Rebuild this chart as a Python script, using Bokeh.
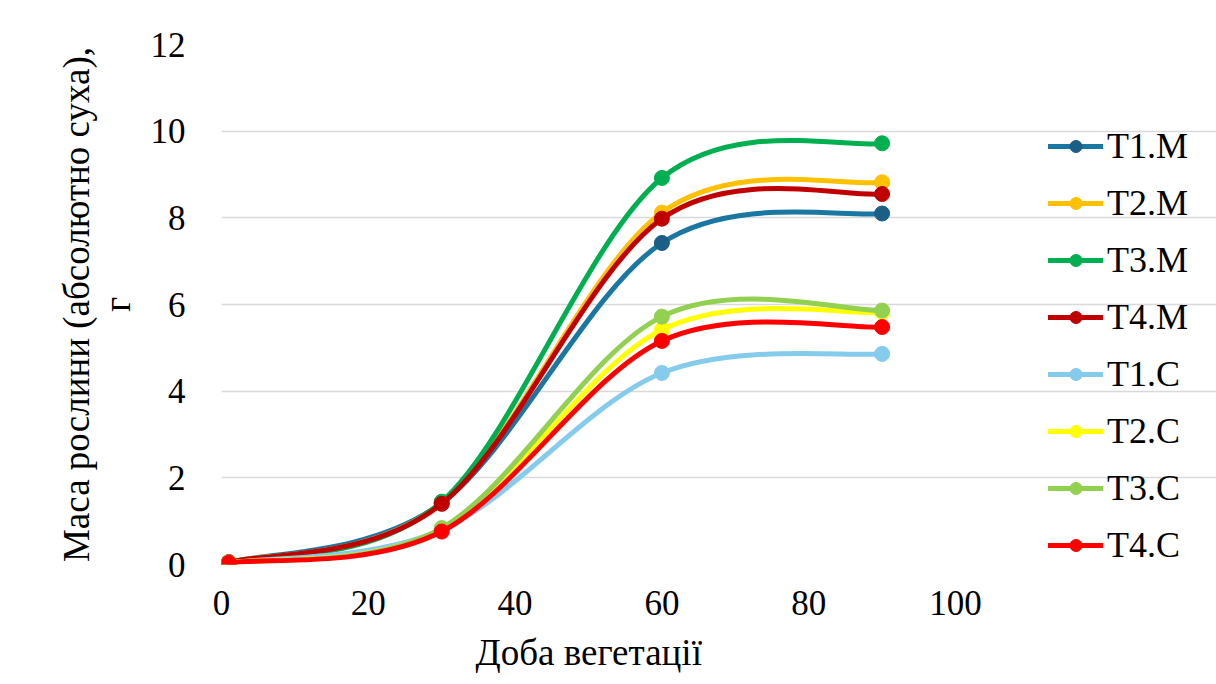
from bokeh.plotting import figure
from bokeh.models import Legend, LegendItem, FixedTicker, Title
from bokeh.embed import file_html
from bokeh.resources import INLINE

days = [1, 30, 60, 90]
x_ticks = [0, 20, 40, 60, 80, 100]
y_ticks = [0, 2, 4, 6, 8, 10, 12]
x_title = "Доба вегетації"
y_title = "Маса рослини (абсолютно суха),\nг"
series_names = ["T1.M", "T2.M", "T3.M", "T4.M", "T1.C", "T2.C", "T3.C", "T4.C"]
t1_m = [0.05, 1.42, 7.42, 8.10]
t2_m = [0.05, 1.42, 8.12, 8.82]
t3_m = [0.05, 1.45, 8.92, 9.72]
t4_m = [0.05, 1.40, 7.98, 8.55]
t1_c = [0.04, 0.80, 4.42, 4.86]
t2_c = [0.04, 0.82, 5.42, 5.82]
t3_c = [0.04, 0.84, 5.72, 5.86]
t4_c = [0.04, 0.76, 5.16, 5.48]
series_values = [t1_m, t2_m, t3_m, t4_m, t1_c, t2_c, t3_c, t4_c]
line_colors = ["#1A77A2", "#FFC000", "#00B050", "#C00000", "#85CBEB", "#FFFF00", "#92D050", "#FF0000"]
marker_colors = ["#1B5E86", "#FFC000", "#00B050", "#C00000", "#85CBEB", "#FFFF00", "#92D050", "#FF0000"]

FONT = "Liberation Serif"

W, H = 1216, 684
LEFT, TOP, BOTTOM = 221, 44, 119
AXIS_PX = 734           # pixel width of the 0..100 day axis
frame_w = W - LEFT
x_end = x_ticks[-1] * frame_w / AXIS_PX   # room on the right for the legend

p = figure(width=W, height=H, output_backend="svg", toolbar_location=None,
           x_range=(x_ticks[0], x_end), y_range=(y_ticks[0], y_ticks[-1]),
           min_border_left=LEFT, min_border_right=0, min_border_top=TOP, min_border_bottom=BOTTOM)
p.outline_line_color = None
p.background_fill_color = "white"
p.border_fill_color = "white"

p.xaxis.ticker = FixedTicker(ticks=x_ticks)
p.yaxis.ticker = FixedTicker(ticks=y_ticks)
p.xaxis.bounds = (x_ticks[0], x_ticks[-1])
for ax in (p.xaxis, p.yaxis):
    ax.axis_line_color = None
    ax.major_tick_line_color = None
    ax.minor_tick_line_color = None
    ax.major_label_text_font = FONT
    ax.major_label_text_font_size = "35px"
    ax.major_label_text_color = "black"
    ax.axis_label_text_font = FONT
    ax.axis_label_text_font_size = "37px"
    ax.axis_label_text_font_style = "normal"
    ax.axis_label_text_color = "black"
    ax.axis_label_text_line_height = 1.0
p.yaxis.axis_label = y_title
p.yaxis.major_label_standoff = 30
p.xaxis.major_label_standoff = 20
p.yaxis.axis_label_standoff = 10

# x-axis title centred under the 0..100 part of the axis
xt = Title(text=x_title, align="left", offset=254, standoff=24,
           text_font=FONT, text_font_size="37px", text_font_style="normal", text_color="black")
p.add_layout(xt, "below")

p.xgrid.grid_line_color = None
p.ygrid.grid_line_color = "#D9D9D9"
p.ygrid.grid_line_width = 1.5
p.ygrid.bounds = (x_ticks[0], x_ticks[-1])


def bezier_segments(xs, ys):
    n = len(xs)
    out = dict(x0=[], y0=[], x1=[], y1=[], cx0=[], cy0=[], cx1=[], cy1=[])
    for i in range(n - 1):
        im1 = max(i - 1, 0)
        ip2 = min(i + 2, n - 1)
        out["x0"].append(xs[i]); out["y0"].append(ys[i])
        out["x1"].append(xs[i + 1]); out["y1"].append(ys[i + 1])
        out["cx0"].append(xs[i] + (xs[i + 1] - xs[im1]) / 6.0)
        out["cy0"].append(ys[i] + (ys[i + 1] - ys[im1]) / 6.0)
        out["cx1"].append(xs[i + 1] - (xs[ip2] - xs[i]) / 6.0)
        out["cy1"].append(ys[i + 1] - (ys[ip2] - ys[i]) / 6.0)
    return out


items = []
for name, vals, lc, mc in zip(series_names, series_values, line_colors, marker_colors):
    seg = bezier_segments(days, vals)
    r_line = p.bezier(line_color=lc, line_width=5, line_cap="round", **seg)
    r_mark = p.scatter(days, vals, size=15, marker="circle", fill_color=mc, line_color=mc)
    items.append(LegendItem(label=name, renderers=[r_line, r_mark]))

legend = Legend(items=items, location=(827, -2), orientation="vertical",
                label_text_font=FONT, label_text_font_size="36px", label_text_color="black",
                glyph_width=55, glyph_height=30, label_height=38, label_standoff=4,
                spacing=15, padding=0, margin=0,
                border_line_color=None, background_fill_alpha=0)
p.add_layout(legend, "center")

html = file_html(p, INLINE)
open("out.html", "w").write(html)
